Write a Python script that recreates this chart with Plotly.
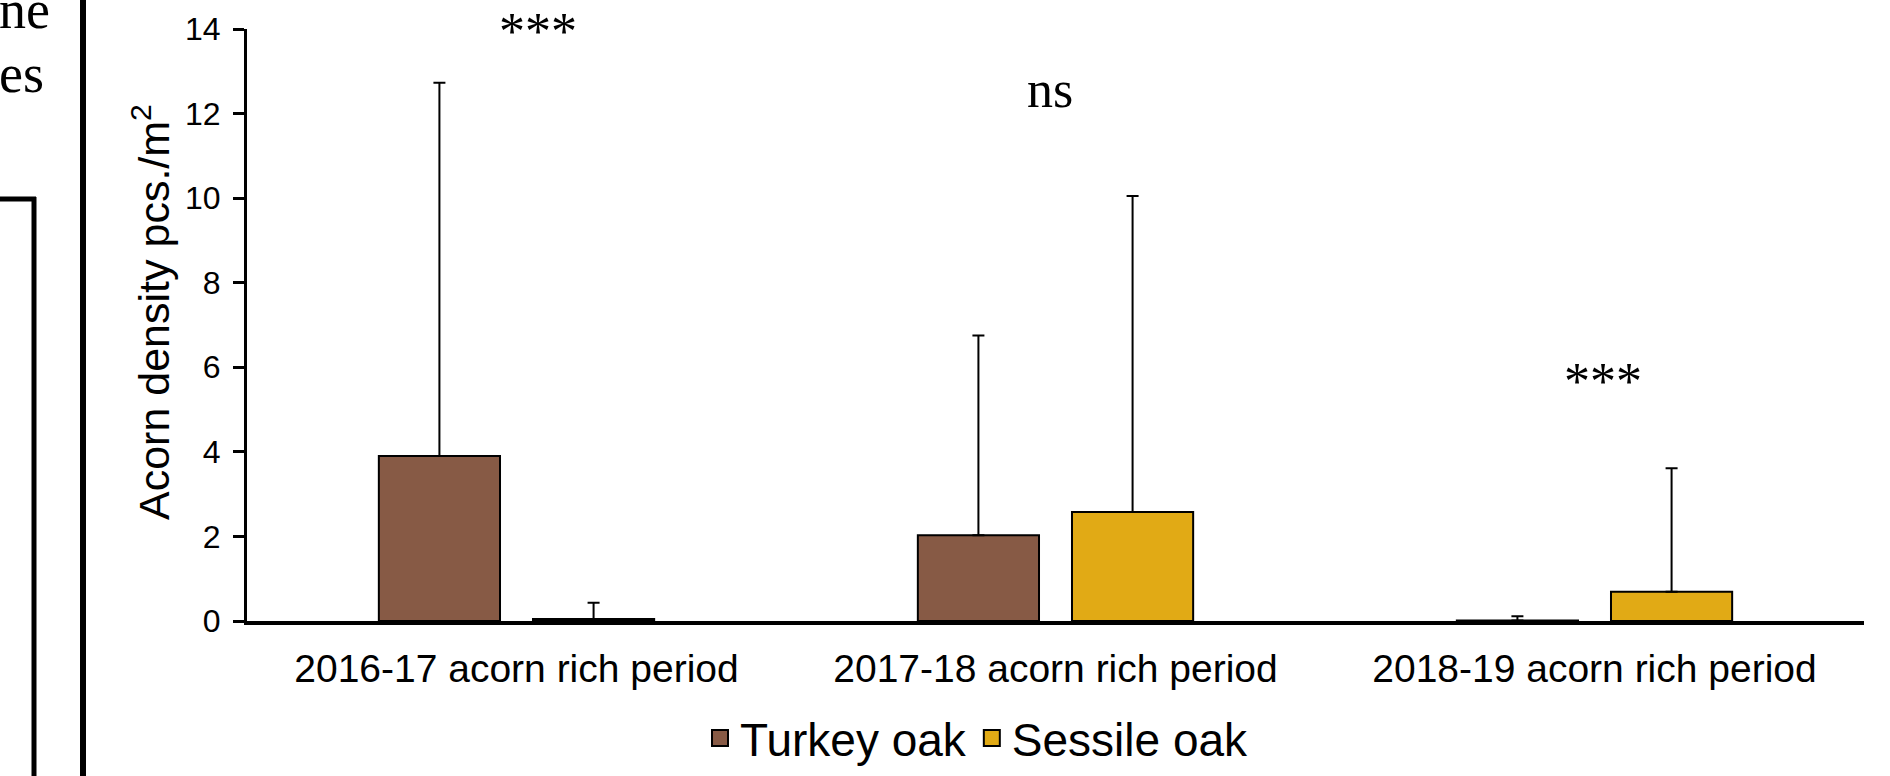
import plotly.graph_objects as go

# Acorn density per period, mean with upper standard deviation
periods = ["2016-17 acorn rich period", "2017-18 acorn rich period", "2018-19 acorn rich period"]
turkey_mean = [3.90, 2.03, 0.01]
turkey_sd = [8.83, 4.72, 0.10]
sessile_mean = [0.05, 2.58, 0.69]
sessile_sd = [0.38, 7.47, 2.92]

# Significance labels per period: (label, x offset from category centre, height)
sig_labels = ["***", "ns", "***"]
sig_offsets = [0.04, -0.01, 0.016]
sig_heights = [13.95, 12.56, 5.67]

TURKEY_COLOR = "#875a45"
SESSILE_COLOR = "#e1aa15"
SANS = "Liberation Sans, Arial, sans-serif"
SERIF = "Liberation Serif, Times New Roman, serif"

W, H = 1890, 776
L, R, T, B = 247, 26, 29, 155


def px_x(px):
    return (px - L) / (W - L - R)


def px_y(py):
    return (H - B - py) / (H - T - B)


fig = go.Figure()

for name, mean, sd, color in [
    ("Turkey oak", turkey_mean, turkey_sd, TURKEY_COLOR),
    ("Sessile oak", sessile_mean, sessile_sd, SESSILE_COLOR),
]:
    fig.add_trace(go.Bar(
        x=periods, y=mean, name=name, showlegend=False,
        marker=dict(color=color, line=dict(color="black", width=2)),
        error_y=dict(type="data", array=sd, arrayminus=[0] * len(sd), symmetric=False,
                     color="black", thickness=2, width=6),
    ))
    # legend entry with a larger square swatch
    fig.add_trace(go.Scatter(
        x=[None], y=[None], mode="markers", name=name,
        marker=dict(symbol="square", size=20, color=color, line=dict(color="black", width=2)),
    ))

for i, (lab, off, h) in enumerate(zip(sig_labels, sig_offsets, sig_heights)):
    fig.add_annotation(x=i + off, y=h, xref="x", yref="y", text=lab, showarrow=False,
                       font=dict(family=SERIF, size=52, color="black"),
                       xanchor="center", yanchor="middle")

# y-axis title
fig.add_annotation(x=px_x(151), y=px_y(312), xref="paper", yref="paper",
                   text="Acorn density pcs./m<sup>2</sup>", textangle=-90, showarrow=False,
                   font=dict(family=SANS, size=43, color="black"),
                   xanchor="center", yanchor="middle")

# surrounding page: body text fragments and frame lines
for word, bottom in [("ne", 42), ("es", 106)]:
    fig.add_annotation(x=px_x(-3), y=px_y(bottom), xref="paper", yref="paper", text=word,
                       showarrow=False, font=dict(family=SERIF, size=54, color="black"),
                       xanchor="left", yanchor="bottom")
fig.add_shape(type="line", xref="paper", yref="paper", x0=px_x(83), x1=px_x(83), y0=px_y(0), y1=px_y(H),
              line=dict(color="black", width=6))
fig.add_shape(type="line", xref="paper", yref="paper", x0=px_x(0), x1=px_x(36), y0=px_y(199), y1=px_y(199),
              line=dict(color="black", width=5))
fig.add_shape(type="line", xref="paper", yref="paper", x0=px_x(34), x1=px_x(34), y0=px_y(197), y1=px_y(H),
              line=dict(color="black", width=5))

fig.update_layout(
    width=W, height=H,
    margin=dict(l=L, r=R, t=T, b=B, autoexpand=False),
    paper_bgcolor="white", plot_bgcolor="white",
    barmode="group", bargap=0.428, bargroupgap=0.214,
    font=dict(family=SANS, color="black"),
    showlegend=True,
    legend=dict(orientation="h", x=px_x(700), xanchor="left",
                yref="container", y=1 - 738 / H, yanchor="middle",
                font=dict(family=SANS, size=46, color="black"), itemwidth=30,
                bgcolor="rgba(0,0,0,0)"),
)
fig.update_xaxes(
    type="category", range=[-0.5, 2.5],
    showline=True, linecolor="black", linewidth=4, ticks="",
    showgrid=False, zeroline=False, ticklabelstandoff=10, automargin=False,
    tickfont=dict(family=SANS, size=39, color="black"),
)
fig.update_yaxes(
    range=[0, 14], dtick=2, tick0=0,
    showline=True, linecolor="black", linewidth=3,
    ticks="outside", ticklen=11, tickwidth=3, tickcolor="black",
    showgrid=False, zeroline=False, ticklabelstandoff=6, automargin=False,
    tickfont=dict(family=SANS, size=32, color="black"),
)

fig.write_html("out.html")
